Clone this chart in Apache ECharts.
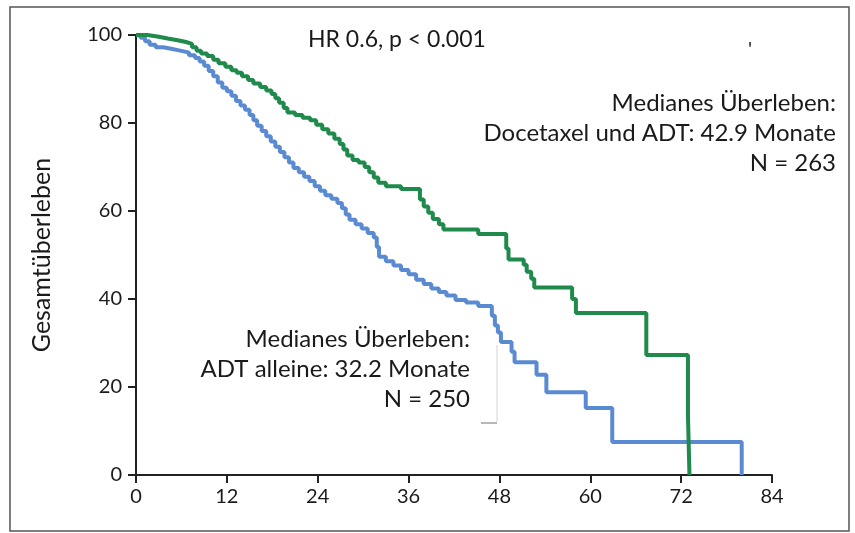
<!DOCTYPE html>
<html><head><meta charset="utf-8">
<script src="https://cdn.jsdelivr.net/npm/echarts@6/dist/echarts.min.js"></script>
<style>html,body{margin:0;padding:0;background:#fff}#c{width:855px;height:533px}</style>
</head><body><div id="c"></div>
<script>
// Months (x) and overall survival % (y) after each step
const docetaxelTimes = [0,1.5,3.0,4.2,5.5,6.6,7.4,8.0,8.6,9.4,10.2,10.9,11.8,12.6,13.3,14.0,14.8,15.5,16.4,17.2,17.9,18.4,18.9,19.5,20.0,21.0,22.0,23.0,23.8,24.6,25.4,26.2,26.9,27.4,27.9,28.6,29.4,30.2,30.8,31.4,32.0,33.0,35.0,37.5,38.0,38.6,39.2,40.0,40.6,45.2,48.9,49.2,51.2,51.6,52.2,52.6,57.6,58.1,67.4,72.9,73.1];
const docetaxelSurv  = [100,99.6,99.2,98.8,98.4,98.0,97.2,96.4,95.8,95.2,94.4,93.6,92.8,92.0,91.4,90.6,89.8,89.0,88.2,87.4,86.6,85.6,84.6,83.4,82.4,81.8,81.2,80.6,79.6,78.6,77.6,76.4,75.2,74.0,72.6,71.6,71.0,70.0,68.8,67.6,66.4,65.6,65.0,62.6,61.0,59.6,58.2,57.0,55.8,54.8,51.5,49.0,47.8,46.2,44.6,42.6,40.0,36.8,27.3,13.5,0];
const adtTimes = [0,0.6,1.2,1.8,2.6,3.6,4.8,6.0,7.0,7.8,8.4,9.0,9.6,10.2,10.8,11.4,12.0,12.6,13.2,13.8,14.4,15.0,15.5,16.0,16.6,17.2,17.8,18.4,19.0,19.6,20.2,20.8,21.5,22.2,22.9,23.6,24.3,25.0,25.8,26.6,27.2,27.7,28.2,29.0,29.8,30.6,31.4,31.8,32.1,33.0,34.0,35.0,36.0,37.0,38.0,39.0,40.0,41.0,42.2,43.6,45.2,47.0,47.4,47.8,48.2,49.6,50.0,52.9,54.2,59.4,62.9,80.0];
const adtSurv  = [100,99.4,98.6,97.8,97.2,96.8,96.4,96.0,95.4,94.8,94.0,93.0,91.8,90.6,89.2,88.0,87.2,86.2,85.0,84.0,83.0,81.8,80.6,79.4,78.2,77.0,75.8,74.6,73.4,72.2,71.0,69.8,68.8,67.8,66.8,65.6,64.6,63.6,62.8,61.8,60.6,59.2,58.0,57.0,56.0,55.0,54.0,51.8,49.6,48.6,47.6,46.6,45.6,44.4,43.4,42.4,41.6,40.8,39.8,39.2,38.4,36.2,34.0,32.4,30.2,28.0,25.6,22.8,18.8,15.2,7.5,0];
const xTicks = [0,12,24,36,48,60,72,84];
const yTicks = [0,20,40,60,80,100];
const yAxisTitle = 'Gesamtüberleben';
const hrText = 'HR 0.6, p < 0.001';
const docetaxelLabel = ['Medianes Überleben:','Docetaxel und ADT: 42.9 Monate','N = 263'];
const adtLabel = ['Medianes Überleben:','ADT alleine: 32.2 Monate','N = 250'];

const pairs = (t, s) => t.map((x, i) => [x, s[i]]);
const FONT = 'Lato';
const chart = echarts.init(document.getElementById('c'), null, {renderer: 'canvas'});
chart.setOption({
  animation: false,
  backgroundColor: '#fff',
  grid: {left: 136, right: 83, top: 35, bottom: 58},
  xAxis: {
    type: 'value', min: xTicks[0], max: xTicks[xTicks.length - 1], interval: 12,
    axisLine: {lineStyle: {color: '#222', width: 2}},
    axisTick: {show: true, length: 8, lineStyle: {color: '#222', width: 2}},
    axisLabel: {color: '#1a1a1a', fontFamily: FONT, fontSize: 20, margin: 12},
    splitLine: {show: false}
  },
  yAxis: {
    type: 'value', min: yTicks[0], max: yTicks[yTicks.length - 1], interval: 20,
    name: yAxisTitle, nameLocation: 'middle', nameGap: 82,
    nameTextStyle: {color: '#1a1a1a', fontFamily: FONT, fontSize: 25},
    axisLine: {show: true, lineStyle: {color: '#222', width: 2}},
    axisTick: {show: true, length: 8, lineStyle: {color: '#222', width: 2}},
    axisLabel: {color: '#1a1a1a', fontFamily: FONT, fontSize: 20, margin: 14},
    splitLine: {show: false}
  },
  series: [
    {type: 'line', name: 'ADT', step: 'end', showSymbol: false, data: pairs(adtTimes, adtSurv),
     lineStyle: {color: '#5a8bd2', width: 4}, z: 2},
    {type: 'line', name: 'Docetaxel + ADT', step: 'end', showSymbol: false, data: pairs(docetaxelTimes, docetaxelSurv),
     lineStyle: {color: '#1f8a4c', width: 4}, z: 3}
  ],
  graphic: [
    {type: 'rect', shape: {x: 10, y: 7, width: 839, height: 524}, style: {fill: 'none', stroke: '#555', lineWidth: 1.5}, silent: true},
    {type: 'text', x: 308, y: 40, style: {text: hrText, font: '23px ' + FONT, fill: '#1a1a1a', textVerticalAlign: 'middle'}},
    {type: 'text', x: 748, y: 50, style: {text: "'", font: '20px ' + FONT, fill: '#222', textVerticalAlign: 'middle'}},
    {type: 'text', x: 836, y: 133, style: {text: docetaxelLabel.join('\n'), font: '24px ' + FONT, fill: '#1a1a1a', textAlign: 'right', textVerticalAlign: 'middle', lineHeight: 30}},
    {type: 'text', x: 470, y: 369, style: {text: adtLabel.join('\n'), font: '24px ' + FONT, fill: '#1a1a1a', textAlign: 'right', textVerticalAlign: 'middle', lineHeight: 30}},
    {type: 'line', shape: {x1: 497, y1: 345, x2: 497, y2: 422}, style: {stroke: '#e2e2e2', lineWidth: 1.5}},
    {type: 'line', shape: {x1: 481, y1: 423, x2: 497, y2: 423}, style: {stroke: '#b8b8b8', lineWidth: 2}}
  ]
});
</script></body></html>
